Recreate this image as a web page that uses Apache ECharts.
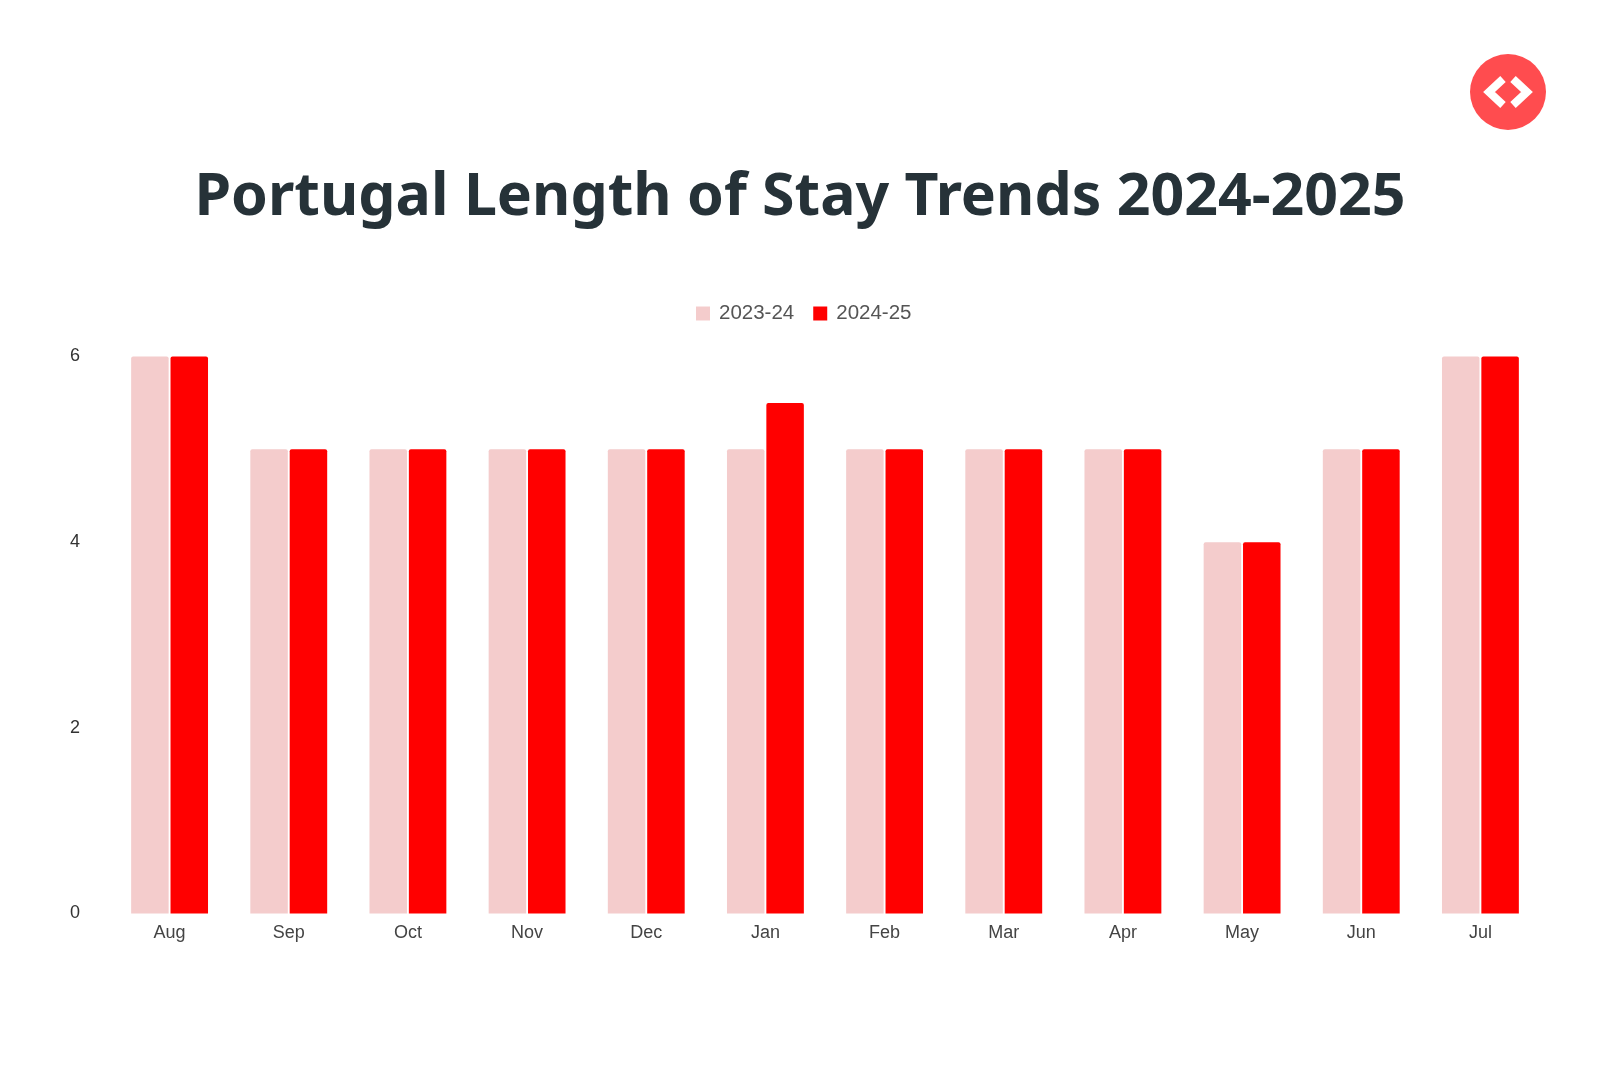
<!DOCTYPE html>
<html><head><meta charset="utf-8">
<style>html,body{margin:0;padding:0;background:#fff}#c{width:1600px;height:1066px}</style>
<script src="https://cdn.jsdelivr.net/npm/echarts@6/dist/echarts.min.js"></script>
</head><body><div id="c"></div>
<script>
const months = ['Aug','Sep','Oct','Nov','Dec','Jan','Feb','Mar','Apr','May','Jun','Jul'];
const stay2324 = [6,5,5,5,5,5,5,5,5,4,5,6];
const stay2425 = [6,5,5,5,5,5.5,5,5,5,4,5,6];
const yTicks = {min:0,max:6,interval:2};
const chart = echarts.init(document.getElementById('c'),null,{renderer:'canvas'});
chart.setOption({
  animation:false,
  backgroundColor:'#fff',
  title:{text:'Portugal Length of Stay Trends 2024-2025',left:795,top:164,textAlign:'center',
    textStyle:{fontFamily:'Noto Sans',fontWeight:700,fontSize:59,color:'#263238'}},
  legend:{top:298,left:691,itemWidth:14,itemHeight:14,itemGap:19,icon:'rect',
    textStyle:{fontFamily:'Liberation Sans',fontSize:20.5,color:'#555',padding:[0,0,0,4]},
    data:['2023-24','2024-25']},
  grid:{left:110,right:60,top:356.5,bottom:152.5,containLabel:false},
  xAxis:{type:'category',data:months,axisLine:{show:false},axisTick:{show:false},
    axisLabel:{fontFamily:'Liberation Sans',fontSize:18,color:'#444',margin:11}},
  yAxis:{type:'value',min:yTicks.min,max:yTicks.max,interval:yTicks.interval,
    splitLine:{show:false},axisLine:{show:false},axisTick:{show:false},
    axisLabel:{fontFamily:'Liberation Sans',fontSize:18,color:'#333',margin:30}},
  series:[
    {name:'2023-24',type:'bar',data:stay2324,barWidth:37.5,barGap:'5%',
      itemStyle:{color:'#f4cccc',borderRadius:[2,2,0,0]}},
    {name:'2024-25',type:'bar',data:stay2425,barWidth:37.5,
      itemStyle:{color:'#ff0000',borderRadius:[2,2,0,0]}}
  ],
  graphic:[
    {type:'circle',shape:{cx:1508,cy:92,r:38},style:{fill:'#ff4c4f'}},
    {type:'polyline',shape:{points:[[1503,79],[1489,92],[1503,105]]},style:{stroke:'#fff',lineWidth:8,fill:null}},
    {type:'polyline',shape:{points:[[1513,79],[1527,92],[1513,105]]},style:{stroke:'#fff',lineWidth:8,fill:null}}
  ]
});
</script></body></html>
